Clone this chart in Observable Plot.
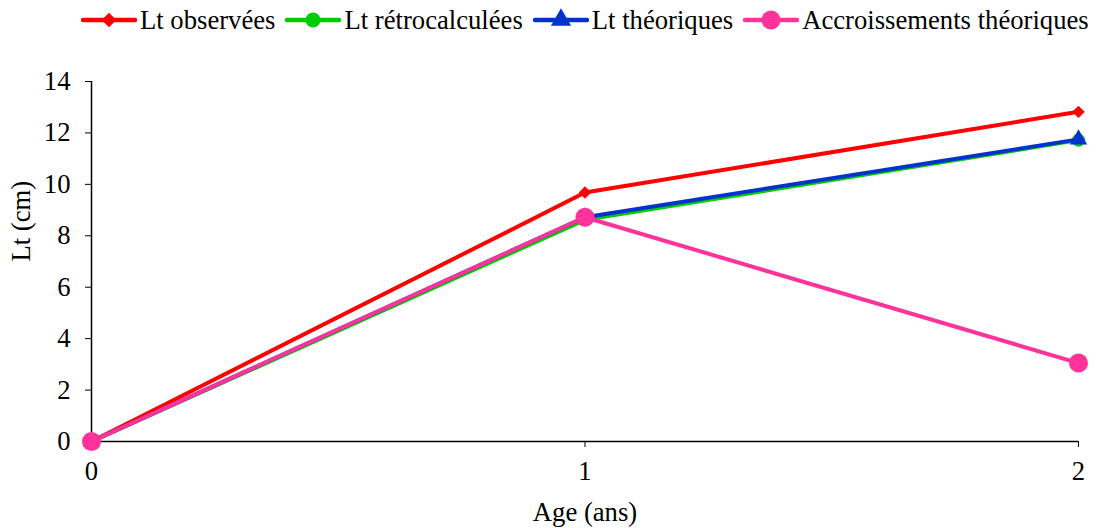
<!DOCTYPE html>
<html>
<head>
<meta charset="utf-8">
<script src="https://cdn.jsdelivr.net/npm/d3@7"></script>
<script src="https://cdn.jsdelivr.net/npm/@observablehq/plot@0.6"></script>
<style>
  body { margin: 0; background: #fff; font-family: "Liberation Serif", "Times New Roman", serif; }
  #legend { height: 40px; display: flex; align-items: center; padding-left: 81px; font-size: 26.67px; color: #000; }
  .item { display: flex; align-items: center; margin-right: 10px; white-space: nowrap; }
  .item svg { margin-right: 3px; }
</style>
</head>
<body>
<div id="legend"></div>
<div id="chart"></div>
<script>
// Age classes (years)
const ages = [0, 1, 2];
// Total length (cm) per age
const ltObservees = [0, 9.68, 12.82];
const ltRetrocalculees = [0, 8.62, 11.72];
const ltTheoriques = [0, 8.72, 11.75];
const accroissementsTheoriques = [0, 8.72, 3.05];
const xTicks = [0, 1, 2];
const yTicks = [0, 2, 4, 6, 8, 10, 12, 14];

const series = [
  {name: "Lt observées", values: ltObservees, color: "#ff0000", symbol: "diamond2", r: 5.6},
  {name: "Lt rétrocalculées", values: ltRetrocalculees, color: "#00cc00", symbol: "circle", r: 6.5},
  {name: "Lt théoriques", values: ltTheoriques, color: "#0033cc", symbol: "triangle", r: 6.5},
  {name: "Accroissements théoriques", values: accroissementsTheoriques, color: "#ff3399", symbol: "circle", r: 9.5}
];

const rows = s => ages.map((a, i) => ({age: a, lt: s.values[i]}));

const fs = 26.67;
const marks = [
  Plot.axisY({ticks: yTicks, tickSize: 6, tickPadding: 15, label: null, fontSize: fs}),
  Plot.axisX({ticks: xTicks, tickSize: 6, tickPadding: 14, label: null, fontSize: fs, tickFormat: d3.format("d")}),
  Plot.ruleX([0], {stroke: "#000", strokeWidth: 1.5}),
  Plot.ruleY([0], {stroke: "#000", strokeWidth: 1.5}),
  Plot.text(["Lt (cm)"], {frameAnchor: "left", dx: -70, rotate: -90, lineAnchor: "middle", fontSize: fs}),
  Plot.text(["Age (ans)"], {frameAnchor: "bottom", dy: 71, lineAnchor: "middle", fontSize: fs})
];
for (const s of series) {
  const data = rows(s);
  marks.push(Plot.line(data, {x: "age", y: "lt", stroke: s.color, strokeWidth: 4}));
  marks.push(Plot.dot(data, {x: "age", y: "lt", fill: s.color, stroke: "none", symbol: s.symbol, r: s.r}));
}

const chart = Plot.plot({
  width: 1104,
  height: 488,
  marginLeft: 91,
  marginRight: 26,
  marginTop: 41,
  marginBottom: 87,
  style: {fontFamily: "Liberation Serif, Times New Roman, serif", fontSize: "26.67px", color: "#000", overflow: "visible"},
  x: {domain: [0, 2]},
  y: {domain: [0, 14]},
  marks
});
document.getElementById("chart").appendChild(chart);

// Legend entries: line with its marker, then the series name
const legend = document.getElementById("legend");
for (const s of series) {
  const item = document.createElement("div");
  item.className = "item";
  const type = s.symbol === "diamond2" ? d3.symbolDiamond2 : s.symbol === "triangle" ? d3.symbolTriangle : d3.symbolCircle;
  const r = s.r < 7 ? s.r + 1 : s.r;
  const sym = d3.symbol(type, Math.PI * r * r)();
  item.innerHTML = `<svg width="56" height="24"><line x1="2" x2="54" y1="12" y2="12" stroke="${s.color}" stroke-width="4.5" stroke-linecap="round"/><path transform="translate(28,12)" d="${sym}" fill="${s.color}"/></svg><span>${s.name}</span>`;
  legend.appendChild(item);
}
</script>
</body>
</html>
